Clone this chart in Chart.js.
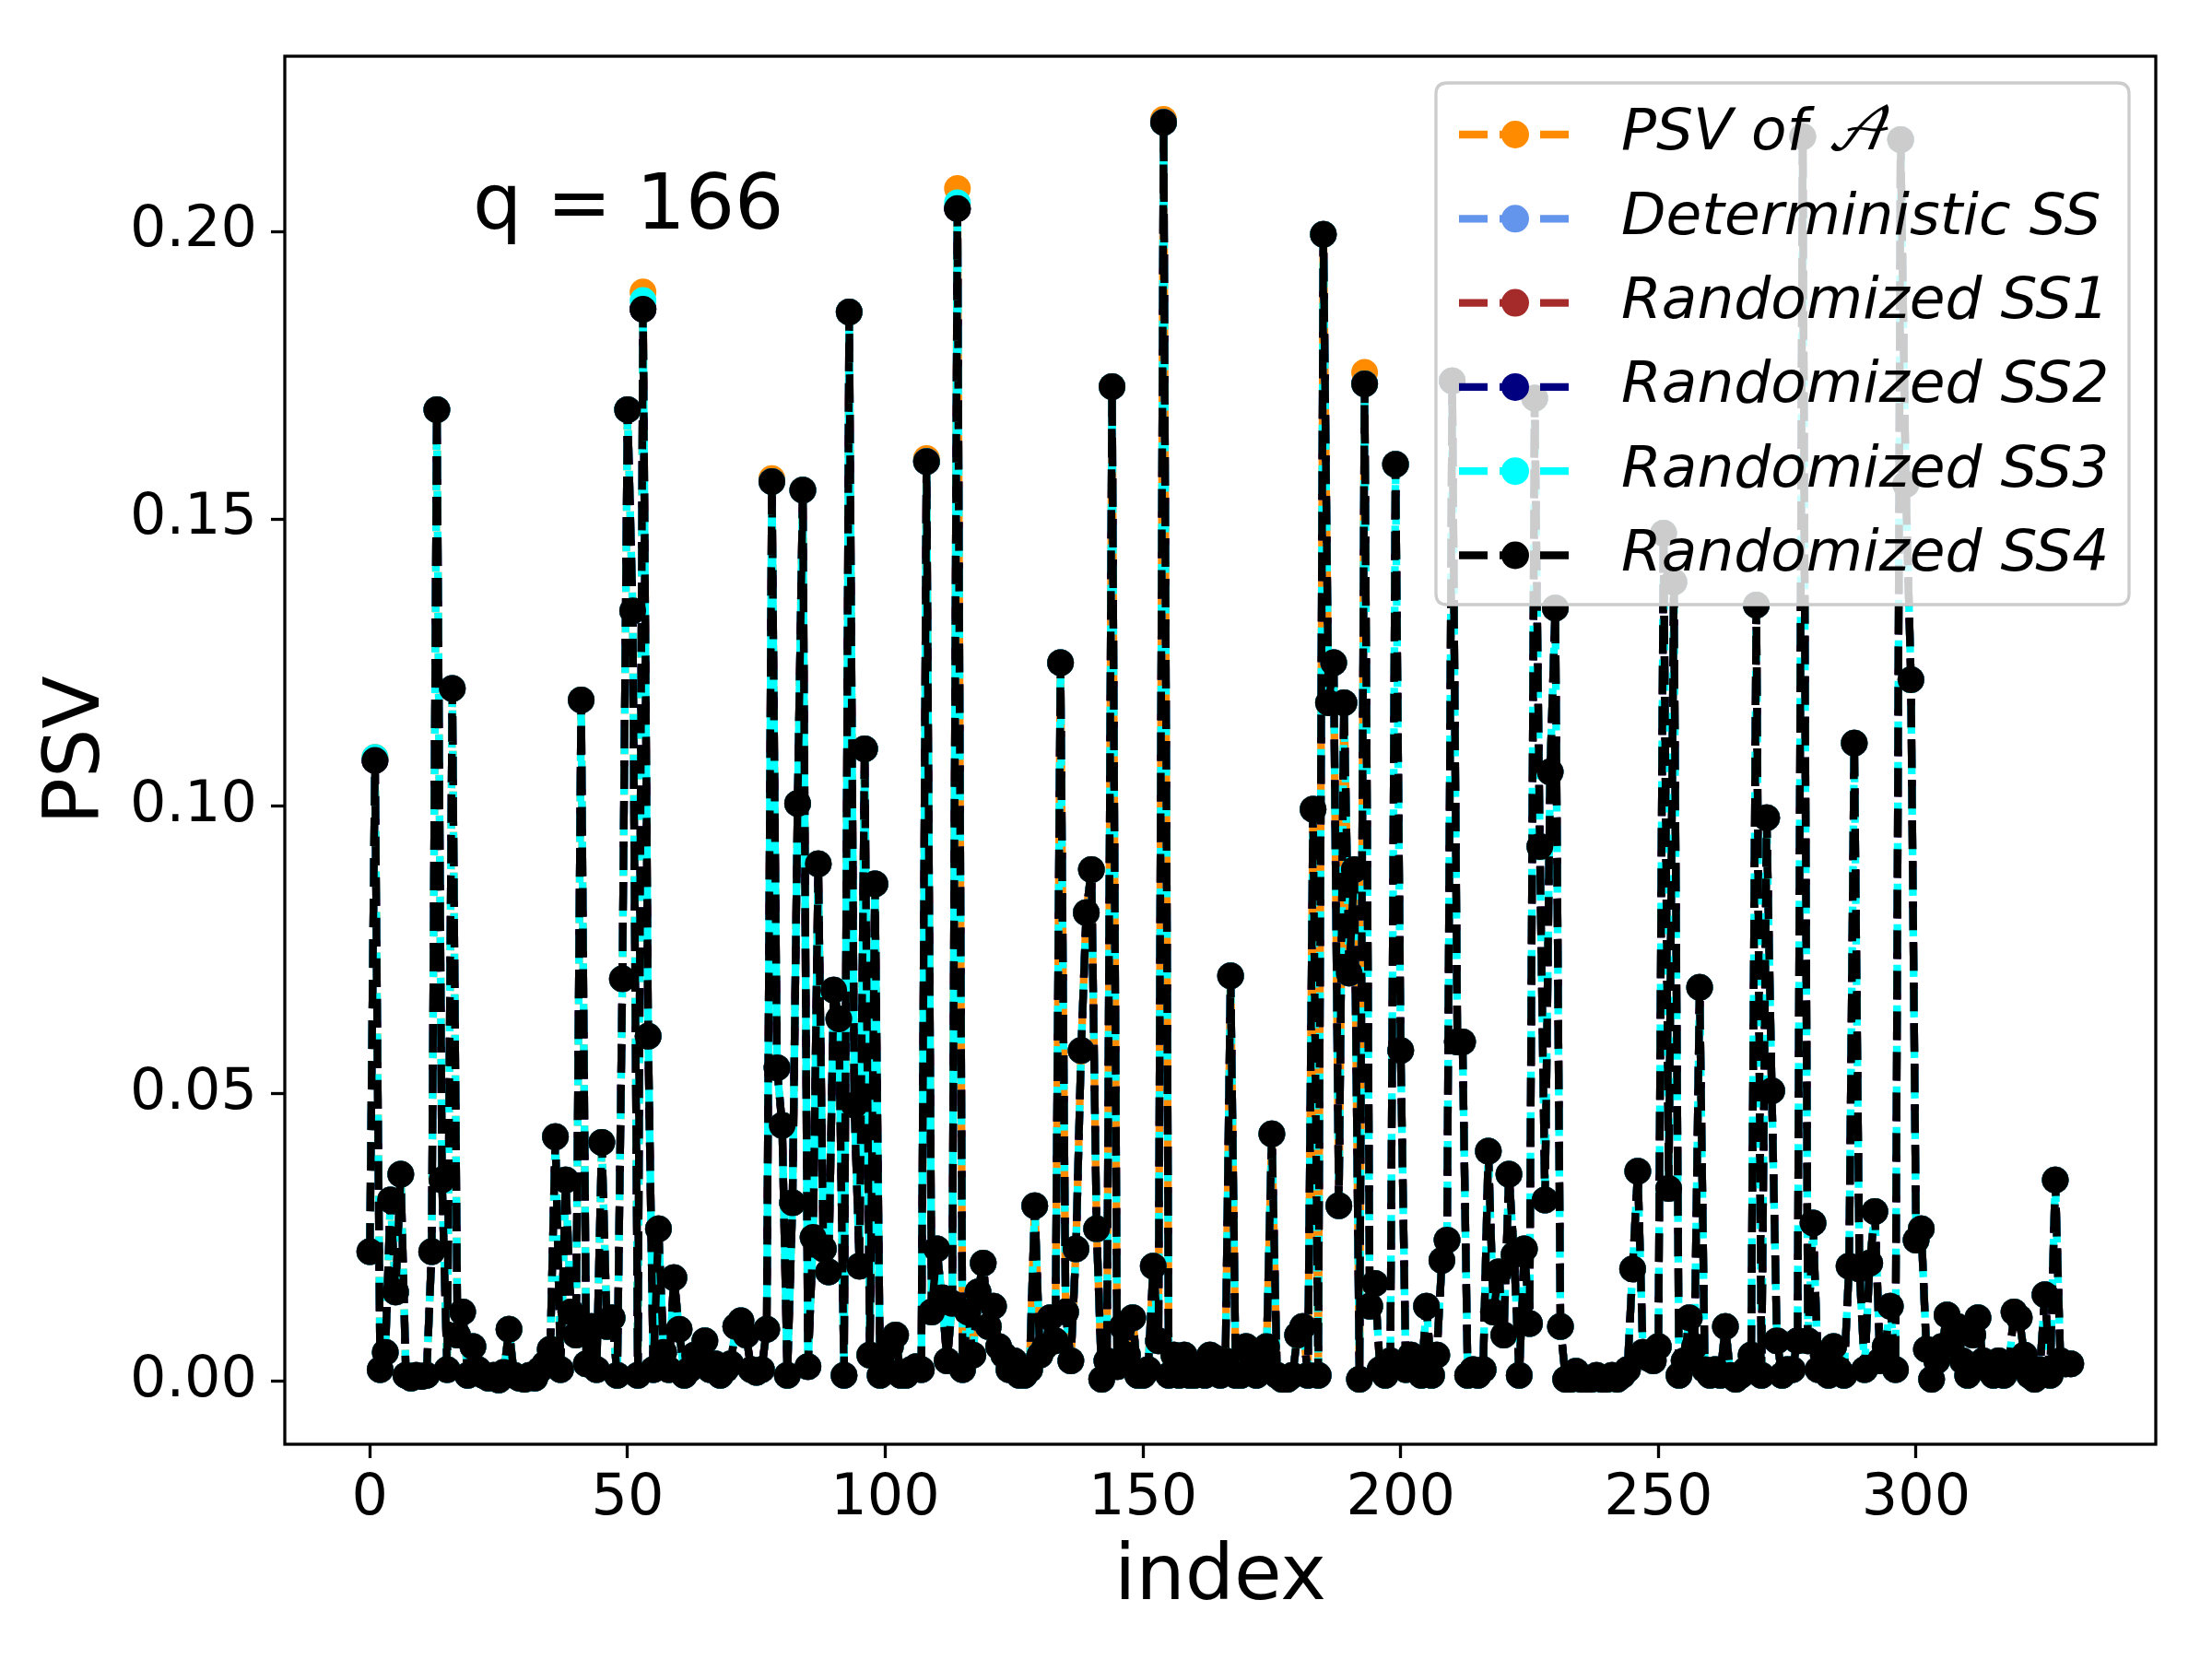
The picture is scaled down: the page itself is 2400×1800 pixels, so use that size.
<!DOCTYPE html>
<html>
<head>
<meta charset="utf-8">
<script src="https://cdn.jsdelivr.net/npm/chart.js@4.4.0/dist/chart.umd.min.js"></script>
<style>
html,body{margin:0;padding:0;background:#ffffff;}
#wrap{width:2400px;height:1800px;position:relative;}
</style>
</head>
<body>
<div id="wrap"><canvas id="c" width="2400" height="1800"></canvas></div>
<script>
// ---------------- DATA ----------------
const pointCount = 331;
const indexLabels = Array.from({length: pointCount}, (_, i) => i);
const xTickLabels = [0, 50, 100, 150, 200, 250, 300];
const yTickLabels = [0.00, 0.05, 0.10, 0.15, 0.20];
const annotationText = 'q = 166';

// Randomized SS4 (black, drawn on top)
const ss4Values = [
  0.0225,0.108,0.002,0.005,0.0315,0.0155,0.036,0.001,0.0005,0.001,
  0.0008,0.001,0.0225,0.169,0.035,0.002,0.1205,0.008,0.012,0.001,
  0.006,0.002,0.001,0.0005,0.001,0.0002,0.0015,0.009,0.001,0.0005,
  0.0003,0.001,0.0005,0.002,0.003,0.0055,0.0425,0.002,0.035,0.012,
  0.008,0.1185,0.003,0.0095,0.002,0.0415,0.0095,0.011,0.001,0.07,
  0.169,0.134,0.001,0.1865,0.06,0.002,0.0265,0.005,0.002,0.018,
  0.009,0.001,0.002,0.0045,0.003,0.007,0.002,0.003,0.001,0.002,
  0.003,0.0095,0.0105,0.008,0.002,0.0015,0.002,0.009,0.1565,0.0545,
  0.0445,0.001,0.031,0.1005,0.155,0.0025,0.025,0.09,0.023,0.019,
  0.068,0.063,0.001,0.186,0.048,0.02,0.110,0.0045,0.0865,0.001,
  0.002,0.006,0.008,0.001,0.001,0.002,0.0025,0.002,0.16,0.012,
  0.023,0.0145,0.0035,0.0135,0.204,0.002,0.012,0.0045,0.0155,0.0205,
  0.0095,0.013,0.006,0.0045,0.002,0.0035,0.001,0.001,0.002,0.0305,
  0.0045,0.006,0.011,0.007,0.125,0.012,0.0035,0.023,0.0575,0.0815,
  0.089,0.0265,0.0003,0.0035,0.173,0.0025,0.0095,0.0045,0.011,0.001,
  0.001,0.002,0.02,0.007,0.219,0.001,0.0045,0.001,0.0045,0.001,
  0.001,0.002,0.001,0.0045,0.004,0.001,0.0035,0.0705,0.001,0.001,
  0.006,0.0045,0.001,0.0035,0.006,0.043,0.001,0.0003,0.0003,0.001,
  0.008,0.0095,0.001,0.0995,0.001,0.1995,0.118,0.125,0.0305,0.118,
  0.071,0.089,0.0003,0.1735,0.013,0.017,0.002,0.001,0.0035,0.1595,
  0.0575,0.002,0.0045,0.0035,0.001,0.013,0.001,0.0045,0.021,0.0245,
  0.174,0.059,0.059,0.001,0.002,0.001,0.002,0.04,0.012,0.019,
  0.008,0.036,0.022,0.001,0.023,0.01,0.171,0.093,0.0315,0.106,
  0.1345,0.0095,0.0003,0.0003,0.0017,0.0003,0.0003,0.0003,0.001,0.0003,
  0.0003,0.001,0.0003,0.001,0.002,0.0195,0.0365,0.005,0.004,0.0035,
  0.006,0.1475,0.0335,0.139,0.001,0.0035,0.011,0.006,0.0685,0.002,
  0.001,0.002,0.001,0.0095,0.001,0.0003,0.001,0.002,0.0045,0.135,
  0.001,0.098,0.0505,0.007,0.001,0.002,0.002,0.007,0.2165,0.007,
  0.0275,0.002,0.0045,0.001,0.006,0.002,0.001,0.02,0.111,0.0195,
  0.002,0.0205,0.0295,0.0035,0.006,0.013,0.002,0.216,0.156,0.122,
  0.0245,0.0265,0.0055,0.0003,0.0035,0.006,0.0115,0.007,0.0095,0.0035,
  0.001,0.008,0.011,0.0035,0.002,0.001,0.0035,0.001,0.0028,0.012,
  0.011,0.0045,0.001,0.0003,0.002,0.015,0.001,0.035,0.0035,0.003,
  0.003
];

// Points where the other series visibly differ from SS4 (index, value)
const psvDifferences = [[1,0.1085],[53,0.1895],[78,0.157],[108,0.1605],[114,0.2075],[154,0.2195],[193,0.1755]];
const deterministicDifferences = [];
const ss1Differences = [];
const ss2Differences = [];
const ss3Differences = [[1,0.1085],[53,0.188],[114,0.205]];

const seriesLabels = ['PSV of \u{1D49C}', 'Deterministic SS', 'Randomized SS1', 'Randomized SS2', 'Randomized SS3', 'Randomized SS4'];
const seriesColors = ['#FF8C00', '#6495ED', '#A52A2A', '#000080', '#00FFFF', '#000000'];

// ---------------- BUILD ----------------
function withDiffs(base, diffs){
  const out = base.slice();
  diffs.forEach(([i, v]) => { out[i] = v; });
  return out;
}
const seriesValues = [
  withDiffs(ss4Values, psvDifferences),
  withDiffs(ss4Values, deterministicDifferences),
  withDiffs(ss4Values, ss1Differences),
  withDiffs(ss4Values, ss2Differences),
  withDiffs(ss4Values, ss3Differences),
  ss4Values
];

const FONT = '"DejaVu Sans", "Liberation Sans", sans-serif';
const LW = 8.3;
const DASH = [31, 13];
const PR = 14.5;

const datasets = seriesValues.map((vals, k) => ({
  label: seriesLabels[k],
  data: vals.map((v, i) => ({x: indexLabels[i], y: v})),
  borderColor: seriesColors[k],
  backgroundColor: seriesColors[k],
  pointBackgroundColor: seriesColors[k],
  pointBorderColor: seriesColors[k],
  pointBorderWidth: 0,
  pointRadius: PR,
  pointHoverRadius: PR,
  borderWidth: LW,
  borderDash: DASH,
  borderCapStyle: 'butt',
  borderJoinStyle: 'round',
  tension: 0,
  fill: false,
  order: seriesValues.length - k
}));

const overlayPlugin = {
  id: 'overlay',
  afterDraw(chart) {
    const ctx = chart.ctx;
    const a = chart.chartArea;
    const xs = chart.scales.x, ys = chart.scales.y;
    ctx.save();
    // annotation text
    ctx.fillStyle = '#000';
    ctx.font = '84px ' + FONT;
    ctx.textAlign = 'left';
    ctx.textBaseline = 'alphabetic';
    ctx.fillText(annotationText, xs.getPixelForValue(20), ys.getPixelForValue(0.2005));

    // frame
    ctx.strokeStyle = '#000';
    ctx.lineWidth = 3.3;
    ctx.setLineDash([]);
    ctx.strokeRect(a.left, a.top, a.right - a.left, a.bottom - a.top);

    // legend
    const lx = 1558, ly = 90, lw = 752, lh = 566, r = 12;
    ctx.beginPath();
    ctx.moveTo(lx + r, ly);
    ctx.lineTo(lx + lw - r, ly);
    ctx.quadraticCurveTo(lx + lw, ly, lx + lw, ly + r);
    ctx.lineTo(lx + lw, ly + lh - r);
    ctx.quadraticCurveTo(lx + lw, ly + lh, lx + lw - r, ly + lh);
    ctx.lineTo(lx + r, ly + lh);
    ctx.quadraticCurveTo(lx, ly + lh, lx, ly + lh - r);
    ctx.lineTo(lx, ly + r);
    ctx.quadraticCurveTo(lx, ly, lx + r, ly);
    ctx.closePath();
    ctx.fillStyle = 'rgba(255,255,255,0.8)';
    ctx.fill();
    ctx.strokeStyle = '#cccccc';
    ctx.lineWidth = 3.3;
    ctx.stroke();

    const rowY0 = 146, rowStep = 91.3;
    chart.data.datasets.forEach((ds, k) => {
      const y = rowY0 + k * rowStep;
      ctx.strokeStyle = ds.borderColor;
      ctx.lineWidth = LW;
      ctx.lineCap = 'butt';
      ctx.setLineDash(DASH);
      ctx.beginPath();
      ctx.moveTo(1583, y);
      ctx.lineTo(1704, y);
      ctx.stroke();
      ctx.setLineDash([]);
      ctx.fillStyle = ds.borderColor;
      ctx.beginPath();
      ctx.arc(1644, y, 15, 0, Math.PI * 2);
      ctx.fill();
      ctx.fillStyle = '#000';
      ctx.font = 'italic 63px "DejaVu Sans", "DejaVu Math TeX Gyre", "Noto Sans Math", "DejaVu Serif", sans-serif';
      ctx.textAlign = 'left';
      ctx.textBaseline = 'middle';
      ctx.fillText(ds.label, 1759, y);
    });
    ctx.restore();
  }
};

new Chart(document.getElementById('c').getContext('2d'), {
  type: 'line',
  data: { datasets },
  options: {
    responsive: false,
    animation: false,
    devicePixelRatio: 1,
    events: [],
    layout: { padding: { left: 0, right: 61, top: 61, bottom: 0 } },
    plugins: { legend: { display: false }, tooltip: { enabled: false } },
    scales: {
      x: {
        type: 'linear',
        min: -16.5,
        max: 346.5,
        afterFit(s) { s.height = 233; },
        afterBuildTicks(s) { s.ticks = xTickLabels.map(v => ({value: v})); },
        ticks: {
          autoSkip: false,
          maxRotation: 0,
          color: '#000',
          padding: 8,
          font: { family: FONT, size: 62 },
          callback: v => String(v)
        },
        grid: { drawOnChartArea: false, drawTicks: true, tickLength: 15, tickWidth: 3.3, tickColor: '#000' },
        border: { display: false },
        title: { display: true, text: 'index', color: '#000', font: { family: FONT, size: 84 }, padding: { top: 0, bottom: 36 } }
      },
      y: {
        type: 'linear',
        min: -0.011,
        max: 0.2305,
        afterFit(s) { s.width = 309; },
        afterBuildTicks(s) { s.ticks = yTickLabels.map(v => ({value: v})); },
        ticks: {
          autoSkip: false,
          color: '#000',
          padding: 15,
          font: { family: FONT, size: 62 },
          callback: v => Number(v).toFixed(2)
        },
        grid: { drawOnChartArea: false, drawTicks: true, tickLength: 15, tickWidth: 3.3, tickColor: '#000' },
        border: { display: false },
        title: { display: true, text: 'PSV', color: '#000', font: { family: FONT, size: 84 }, padding: { top: 35, bottom: 0 } }
      }
    }
  },
  plugins: [overlayPlugin]
});
</script>
</body>
</html>
